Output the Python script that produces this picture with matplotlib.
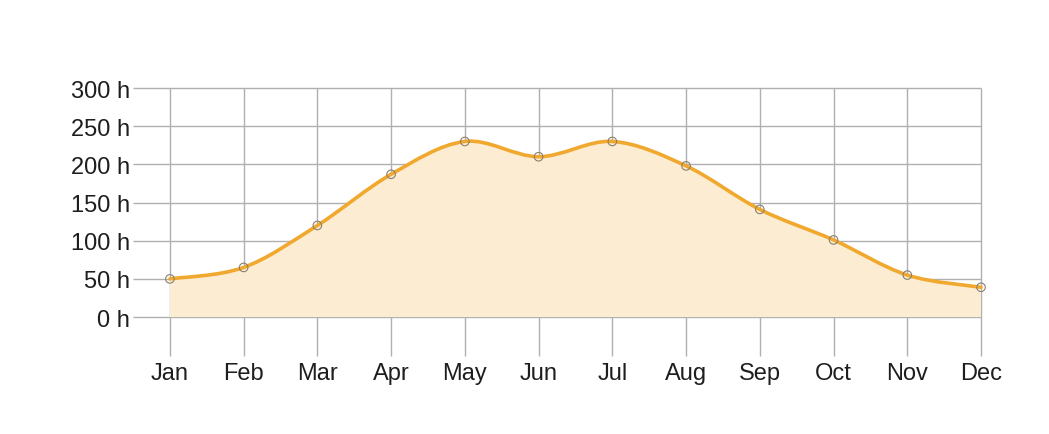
import numpy as np
import matplotlib
matplotlib.use("Agg")
import matplotlib.pyplot as plt
from matplotlib.path import Path
from matplotlib.patches import PathPatch

months = ["Jan", "Feb", "Mar", "Apr", "May", "Jun",
          "Jul", "Aug", "Sep", "Oct", "Nov", "Dec"]
hours = [50, 65, 120, 187, 230, 210, 230, 198, 141, 101, 55, 39]
yticks = [0, 50, 100, 150, 200, 250, 300]

LINE = "#f0a92e"
FILL = "#fcecd2"
GRID = "#b0b0b0"

plt.rcParams['font.family'] = ['Liberation Sans', 'DejaVu Sans']


def smooth_path(xs, ys, close_to=None):
    # catmull-rom through the points, written out as cubic bezier segments
    pts = np.column_stack([xs, ys]).astype(float)
    n = len(pts)
    verts = [pts[0]]
    codes = [Path.MOVETO]
    for i in range(n - 1):
        p0 = pts[max(i - 1, 0)]
        p1 = pts[i]
        p2 = pts[i + 1]
        p3 = pts[min(i + 2, n - 1)]
        c1 = p1 + (p2 - p0) / 6.0
        c2 = p2 - (p3 - p1) / 6.0
        verts += [c1, c2, p2]
        codes += [Path.CURVE4] * 3
    if close_to is not None:
        verts += [[xs[-1], close_to], [xs[0], close_to], pts[0]]
        codes += [Path.LINETO, Path.LINETO, Path.CLOSEPOLY]
    return Path(verts, codes)


x = np.arange(len(months))

fig = plt.figure(figsize=(10.49, 4.35), dpi=100)
ax = fig.add_axes([0.1268, 0.1793, 0.8084, 0.6161])

ax.set_xlim(-0.5, 11)
ax.set_ylim(-51, 300)

# grid drawn by hand: horizontals stop at Dec, verticals run below zero
ax.hlines(yticks, -0.5, 11, color=GRID, lw=1.0, zorder=1, clip_on=False)
ax.vlines(x, -51, 300, color=GRID, lw=1.0, zorder=1, clip_on=False)

ax.add_patch(PathPatch(smooth_path(x, hours, close_to=0), facecolor=FILL,
                       edgecolor="none", zorder=2))
ax.add_patch(PathPatch(smooth_path(x, hours), facecolor="none",
                       edgecolor=LINE, lw=2.6, zorder=3, capstyle="round",
                       clip_on=False))
ax.scatter(x, hours, s=38, facecolors="none", edgecolors="#8a8070",
           linewidths=0.8, zorder=4, clip_on=False)

ax.set_xticks(x)
ax.set_xticklabels(months)
ax.set_yticks(yticks)
ax.set_yticklabels([f"{v} h" for v in yticks])
ax.tick_params(axis="both", length=0, labelsize=17, colors="#1e1e1e")
ax.tick_params(axis="x", pad=4)
ax.tick_params(axis="y", pad=2)

for s in ax.spines.values():
    s.set_visible(False)

fig.savefig("out.png", dpi=100, facecolor="white")
